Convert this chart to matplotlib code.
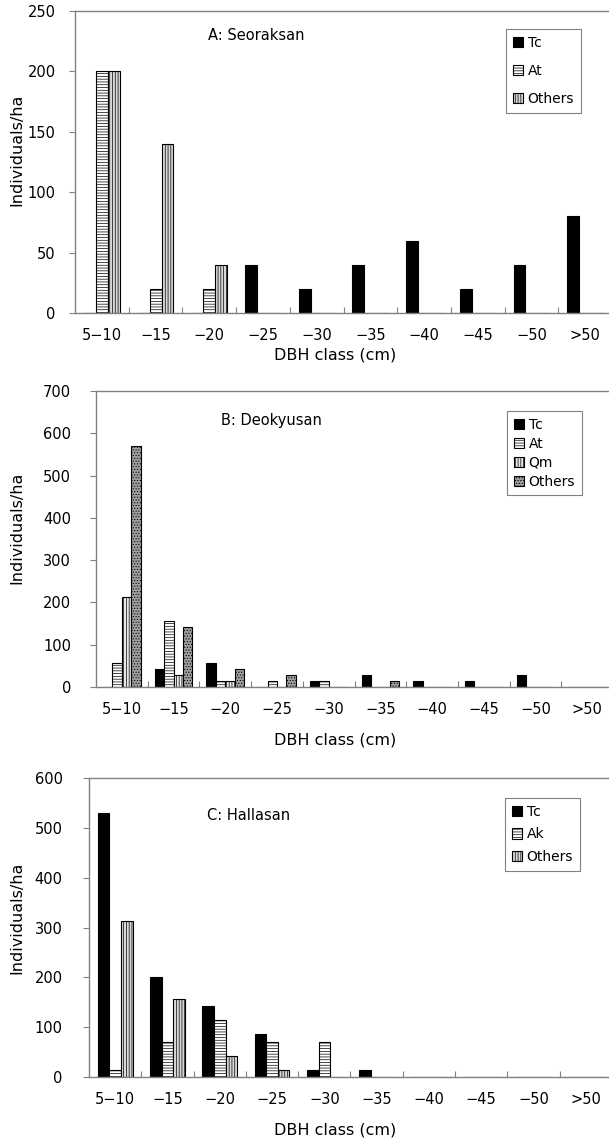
import matplotlib.pyplot as plt
import numpy as np

# ===== データ =====
dbh_classes = ["5\u221210", "\u221215", "\u221220", "\u221225", "\u221230",
               "\u221235", "\u221240", "\u221245", "\u221250", ">50"]

# A: Seoraksan
sa_tc = [0, 0, 0, 40, 20, 40, 60, 20, 40, 80]
sa_at = [200, 20, 20, 0, 0, 0, 0, 0, 0, 0]
sa_others = [200, 140, 40, 0, 0, 0, 0, 0, 0, 0]

# B: Deokyusan
de_tc = [0, 43, 57, 0, 14, 29, 14, 14, 29, 0]
de_at = [57, 157, 14, 14, 14, 0, 0, 0, 0, 0]
de_qm = [214, 29, 14, 0, 0, 0, 0, 0, 0, 0]
de_others = [571, 143, 43, 29, 0, 14, 0, 0, 0, 0]

# C: Hallasan
ha_tc = [529, 200, 143, 86, 14, 14, 0, 0, 0, 0]
ha_ak = [14, 71, 114, 71, 71, 0, 0, 0, 0, 0]
ha_others = [314, 157, 43, 14, 0, 0, 0, 0, 0, 0]

# ===== スタイル =====
plt.rcParams["font.family"] = "DejaVu Sans"
plt.rcParams["hatch.linewidth"] = 0.5
plt.rcParams["hatch.color"] = "black"

W, H = 609, 1142
GRAY = "#808080"

STYLE = {
    "Tc": dict(facecolor="black", hatch=None),
    "At": dict(facecolor="white", hatch="------"),
    "Ak": dict(facecolor="white", hatch="------"),
    "Qm": dict(facecolor="#e8e8e8", hatch="||||||"),
    "Others3": dict(facecolor="#d8d8d8", hatch="||||||"),
    "Others4": dict(facecolor="#a0a0a0", hatch="......"),
}


def px_rect(left, top, right, bottom):
    return [left / W, 1 - bottom / H, (right - left) / W, (bottom - top) / H]


def draw_panel(fig, rect, series, ymax, ystep, title, title_xy, legend_xy,
               labelspacing, ylab_y, xlab_y, ypad):
    ax = fig.add_axes(px_rect(*rect))
    n = len(series)
    width = 1 / (n + 1.5)
    x = np.arange(len(dbh_classes))
    for k, (name, key, values) in enumerate(series):
        offs = (k - (n - 1) / 2) * width
        st = STYLE[key]
        ax.bar(x + offs, values, width, facecolor=st["facecolor"], hatch=st["hatch"],
               edgecolor="black", linewidth=0.8, label=name)

    ax.set_xlim(-0.5, len(dbh_classes) - 0.5)
    ax.set_ylim(0, ymax)
    ax.set_yticks(np.arange(0, ymax + 1, ystep))
    ax.set_xticks(np.arange(0.5, len(dbh_classes), 1.0))
    ax.set_xticklabels([])
    ax.set_xticks(x, minor=True)
    ax.set_xticklabels(dbh_classes, minor=True, fontsize=10.5)
    ax.tick_params(axis="x", which="major", direction="in", length=4, color=GRAY)
    ax.tick_params(axis="x", which="minor", length=0, pad=11)
    ax.tick_params(axis="y", direction="out", length=4, color=GRAY, labelsize=10.5, pad=ypad)
    for sp in ax.spines.values():
        sp.set_color(GRAY)
        sp.set_linewidth(1)
    ax.spines["right"].set_visible(False)  # 元図では枠外

    fig.text(title_xy[0] / W, 1 - title_xy[1] / H, title, fontsize=10.5, va="center")
    fig.text(17 / W, 1 - ylab_y / H, "Individuals/ha", rotation=90,
             fontsize=11.5, ha="center", va="center")
    fig.text(335 / W, 1 - xlab_y / H, "DBH class (cm)", fontsize=11.5,
             ha="center", va="center")

    leg = ax.legend(loc="upper left", bbox_to_anchor=(legend_xy[0] / W, 1 - legend_xy[1] / H),
                    bbox_transform=fig.transFigure, borderaxespad=0, fancybox=False,
                    edgecolor=GRAY, framealpha=1, fontsize=10, handlelength=0.75,
                    handleheight=0.75, handletextpad=0.3, labelspacing=labelspacing,
                    borderpad=0.5)
    leg.get_frame().set_linewidth(0.8)
    return ax


fig = plt.figure(figsize=(W / 100, H / 100), dpi=100)

draw_panel(fig, (75, 11, 612, 313),
           [("Tc", "Tc", sa_tc), ("At", "At", sa_at), ("Others", "Others3", sa_others)],
           250, 50, "A: Seoraksan", (208, 36), (506, 29), 1.0, 150, 355, 10)

draw_panel(fig, (96, 391, 613, 687),
           [("Tc", "Tc", de_tc), ("At", "At", de_at), ("Qm", "Qm", de_qm),
            ("Others", "Others4", de_others)],
           700, 100, "B: Deokyusan", (221, 421), (507, 411), 0.35, 528, 740, 14)

draw_panel(fig, (89, 778, 612, 1077),
           [("Tc", "Tc", ha_tc), ("Ak", "Ak", ha_ak), ("Others", "Others3", ha_others)],
           600, 100, "C: Hallasan", (207, 815), (505, 798), 0.6, 918, 1130, 15)

plt.savefig("out.png", dpi=100)
